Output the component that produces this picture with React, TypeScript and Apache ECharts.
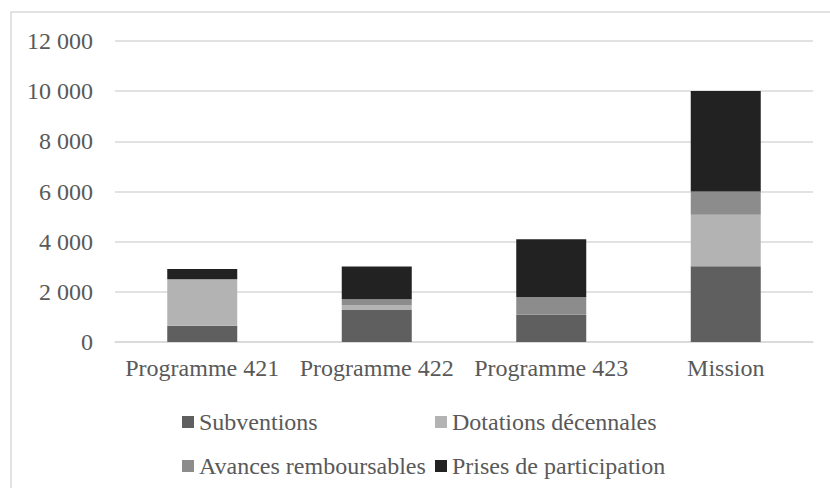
import React, { useEffect, useRef } from "react";
import * as echarts from "echarts";

const categories = ["Programme 421", "Programme 422", "Programme 423", "Mission"];
const subventions = [650, 1280, 1090, 3020];
const dotations = [1850, 200, 0, 2050];
const avances = [0, 225, 705, 930];
const prises = [410, 1300, 2300, 4010];
const seriesNames = ["Subventions", "Dotations décennales", "Avances remboursables", "Prises de participation"];
const colors = ["#5f5f5f", "#b3b3b3", "#8c8c8c", "#222222"];
const yTicks = { min: 0, max: 12000, interval: 2000 };

const FONT = "'Liberation Serif', 'Times New Roman', serif";
const TEXT = "#595959";
const FS = 24;

export default function App() {
  const ref = useRef<HTMLDivElement>(null);
  useEffect(() => {
    if (!ref.current) return;
    const chart = echarts.init(ref.current, null, { renderer: "svg" });
    const values = [subventions, dotations, avances, prises];
    const legendPos = [
      { left: 182, top: 410 },
      { left: 435, top: 410 },
      { left: 182, top: 454 },
      { left: 435, top: 454 },
    ];
    chart.setOption({
      animation: false,
      backgroundColor: "#ffffff",
      textStyle: { fontFamily: FONT },
      graphic: [
        {
          type: "rect",
          shape: { x: 11, y: 12, width: 840, height: 500 },
          style: { fill: "none", stroke: "#d9d9d9", lineWidth: 1.5 },
          silent: true,
        },
      ],
      grid: { left: 115, right: 17, top: 41, bottom: 146, containLabel: false },
      legend: seriesNames.map((n, i) => ({
        data: [n],
        left: legendPos[i].left,
        top: legendPos[i].top,
        icon: "rect",
        itemWidth: 12,
        itemHeight: 12,
        itemGap: 0,
        padding: 0,
        selectedMode: false,
        textStyle: { color: TEXT, fontSize: FS, fontFamily: FONT },
      })),
      xAxis: {
        type: "category",
        data: categories,
        axisLine: { show: true, lineStyle: { color: "#d9d9d9", width: 1.5 } },
        axisTick: { show: false },
        axisLabel: { color: TEXT, fontSize: FS, fontFamily: FONT, margin: 14, interval: 0 },
      },
      yAxis: {
        type: "value",
        min: yTicks.min,
        max: yTicks.max,
        interval: yTicks.interval,
        axisLine: { show: false },
        axisTick: { show: false },
        splitLine: { lineStyle: { color: "#d9d9d9", width: 1.5 } },
        axisLabel: {
          color: TEXT,
          fontSize: FS,
          fontFamily: FONT,
          margin: 22,
          formatter: (v: number) => String(v).replace(/\B(?=(\d{3})+(?!\d))/g, " "),
        },
      },
      series: seriesNames.map((n, i) => ({
        name: n,
        type: "bar",
        stack: "total",
        data: values[i],
        barWidth: 70,
        itemStyle: { color: colors[i] },
      })),
    });
    return () => chart.dispose();
  }, []);
  return (
    <div
      ref={ref}
      style={{ position: "absolute", left: 0, top: 0, width: 830, height: 488 }}
    />
  );
}
